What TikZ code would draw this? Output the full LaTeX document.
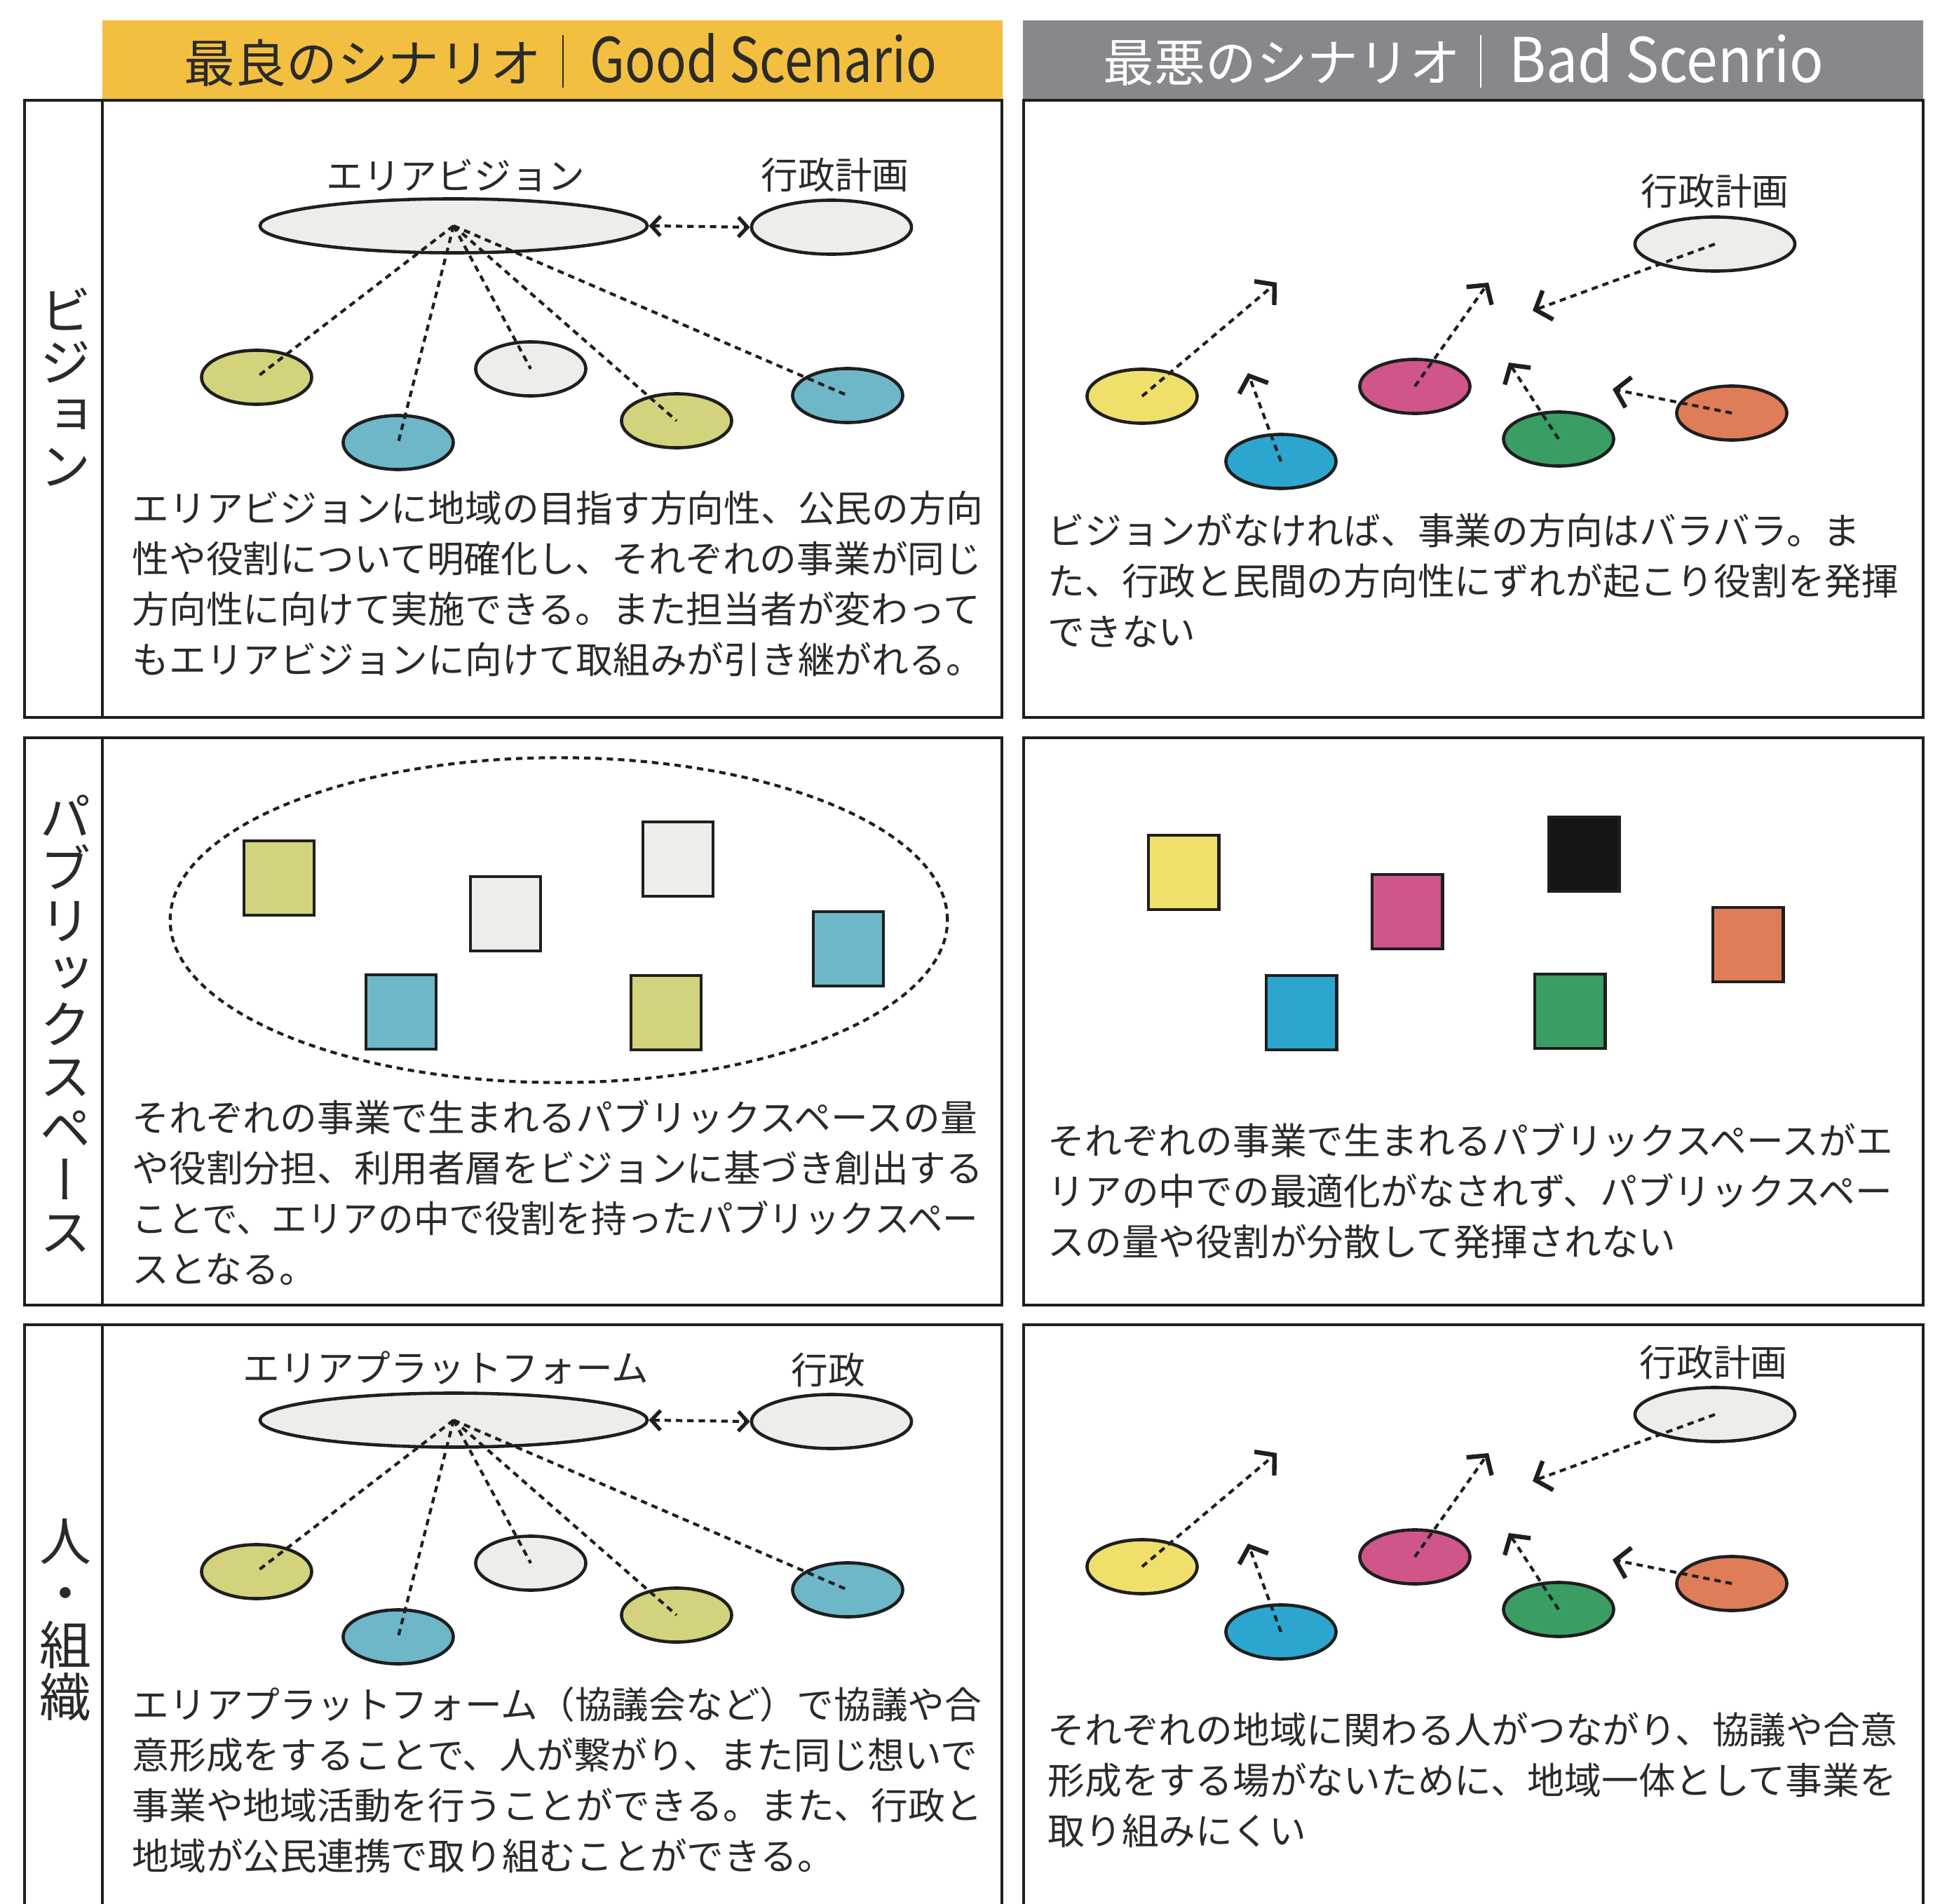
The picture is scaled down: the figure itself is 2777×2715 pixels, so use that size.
\documentclass[tikz,border=0pt]{standalone}
\usepackage{fontspec}
\usepackage{graphicx}
\setmainfont{Noto Sans CJK JP}
\newfontfamily\vertfont{Noto Sans CJK JP}[RawFeature=+vert]
\usetikzlibrary{arrows.meta,shapes.geometric}
\definecolor{linec}{HTML}{1E1F1E}
\definecolor{textc}{HTML}{2A2A2A}
\definecolor{hyel}{HTML}{F3BF41}
\definecolor{hgray}{HTML}{88878C}
\definecolor{gyg}{HTML}{D2D37C}
\definecolor{gbl}{HTML}{6DB7C8}
\definecolor{glg}{HTML}{EDEDEA}
\definecolor{byel}{HTML}{F0DF6B}
\definecolor{bbl}{HTML}{2CA6CE}
\definecolor{bmag}{HTML}{D0558A}
\definecolor{bgrn}{HTML}{3A9D64}
\definecolor{bora}{HTML}{DE7D57}
\definecolor{bblk}{HTML}{131615}
\newcommand\goodnet[2]{%
 \begin{scope}[shift={(0,#2)}]
 \node[bigell] (#1big) at (647,322) {};
 \node[govell] (#1gov) at (1186,324) {};
 \node[ell,fill=gyg] (#1a) at (366,538) {};
 \node[ell,fill=gbl] (#1b) at (568,631) {};
 \node[ell,fill=glg] (#1c) at (757,526) {};
 \node[ell,fill=gyg] (#1d) at (965,600) {};
 \node[ell,fill=gbl] (#1e) at (1209,564) {};
 \foreach \k in {a,b,c,d,e} \draw[spoke] (#1big.center) -- (#1\k.center);
 \draw[dblarrow] (#1big.east) -- (#1gov.west);
 \end{scope}}
\newcommand\badnet[2]{%
 \begin{scope}[shift={(0,#2)}]
 \node[govell] (#1gov) at (2446,348) {};
 \node[ell,fill=byel] (#1a) at (1629,565) {};
 \node[ell,fill=bbl] (#1b) at (1827,658) {};
 \node[ell,fill=bmag] (#1c) at (2018,551) {};
 \node[ell,fill=bgrn] (#1d) at (2223,626) {};
 \node[ell,fill=bora] (#1e) at (2470,589) {};
 \coordinate (#1ta) at (1821,403);
 \coordinate (#1tb) at (1780,532);
 \coordinate (#1tc) at (2123,403);
 \coordinate (#1td) at (2152,517);
 \coordinate (#1te) at (2300,555);
 \coordinate (#1tg) at (2186,443);
 \foreach \k in {a,b,c,d,e} \draw[badarrow] (#1\k.center) -- (#1t\k);
 \draw[badarrow] (#1gov.center) -- (#1tg);
 \end{scope}}
\begin{document}
\begin{tikzpicture}[x=0.01cm,y=-0.01cm,
 panelframe/.style={draw=linec, line width=1.2pt},
 ell/.style={ellipse, draw=linec, line width=1.3pt, inner sep=0pt, minimum width=1.57cm, minimum height=0.77cm},
 bigell/.style={ell, fill=glg, minimum width=5.52cm},
 govell/.style={ell, fill=glg, minimum width=2.28cm},
 sq/.style={rectangle, draw=linec, line width=1.4pt, inner sep=0pt, minimum width=1.0cm, minimum height=1.06cm},
 spoke/.style={draw=linec, line width=1.2pt, dash pattern=on 2.6pt off 2pt},
 dblarrow/.style={spoke, {Straight Barb[length=1.3mm,width=2.8mm,line width=1.5pt]}-{Straight Barb[length=1.3mm,width=2.8mm,line width=1.5pt]}},
 badarrow/.style={spoke, -{Straight Barb[length=1.9mm,width=4.4mm,line width=1.8pt]}},
 bodytxt/.style={anchor=base west, inner sep=0pt, text=textc, font=\fontsize{15}{18}\selectfont},
 lbl/.style={inner sep=0pt, text=textc, font=\fontsize{15}{18}\selectfont},
 sidelbl/.style={inner sep=0pt, text=textc, align=center, font=\vertfont\fontsize{21}{21.05}\selectfont},
 hdrj/.style={anchor=west, inner sep=0pt, font=\fontsize{20.7}{24}\selectfont},
 hdre/.style={anchor=base west, inner sep=0pt, font=\fontsize{25}{30}\selectfont}]
\useasboundingbox (0,0) rectangle (2777,2715);
\fill[white] (0,0) rectangle (2777,2715);
% headers
\fill[hyel] (146,29) rectangle (1430,143);
\fill[hgray] (1459,29) rectangle (2743,143);
\node[hdrj, text=textc] (gj) at (262,90) {最良のシナリオ};
\draw[line width=0.6pt, textc] (803,50) -- (803,125);
\node[hdre, text=textc] (ge) at (841,118) {\scalebox{0.824}[1]{Good Scenario}};
\node[hdrj, text=white] (bj) at (1573,90) {最悪のシナリオ};
\draw[line width=0.6pt, white] (2112,50) -- (2112,125);
\node[hdre, text=white] (be) at (2152,118) {\scalebox{0.915}[1]{Bad Scenrio}};
% frames
\draw[panelframe] (35,143) rectangle (1429,1023);
\draw[panelframe] (146,143) -- (146,1023);
\draw[panelframe] (1460,143) rectangle (2743,1023);
\draw[panelframe] (35,1052) rectangle (1429,1861);
\draw[panelframe] (146,1052) -- (146,1861);
\draw[panelframe] (1460,1052) rectangle (2743,1861);
\draw[panelframe] (35,1889) rectangle (1429,2780);
\draw[panelframe] (146,1889) -- (146,2780);
\draw[panelframe] (1460,1889) rectangle (2743,2780);
% side labels
\node[sidelbl] (s1) at (93,552) {ビ\\ジ\\ョ\\ン};
\node[sidelbl] (s2) at (93,1460) {パ\\ブ\\リ\\ッ\\ク\\ス\\ペ\\ー\\ス};
\node[sidelbl] (s3) at (93,2310) {人\\・\\組\\織};
% row 1 diagrams
\goodnet{ga}{0}
\node[lbl] (gal1) at (650,250) {エリアビジョン};
\node[lbl] (gal2) at (1191,250) {行政計画};
\badnet{ba}{0}
\node[lbl] (bal1) at (2446,273) {行政計画};
% row 3 diagrams
\goodnet{gc}{1703}
\node[lbl] (gcl1) at (636,1951) {エリアプラットフォーム};
\node[lbl] (gcl2) at (1181,1953) {行政};
\badnet{bc}{1669}
\node[lbl] (bcl1) at (2444,1942) {行政計画};
% row 2 public spaces
\node[ellipse, draw=linec, line width=1.2pt, dash pattern=on 2.6pt off 2pt, minimum width=11.08cm, minimum height=4.63cm, inner sep=0pt] (pool) at (797,1312) {};
\node[sq, fill=gyg] (p1) at (398,1252) {};
\node[sq, fill=glg] (p2) at (721,1303) {};
\node[sq, fill=glg] (p3) at (967,1225) {};
\node[sq, fill=gbl] (p4) at (1210,1353) {};
\node[sq, fill=gbl] (p5) at (572,1443) {};
\node[sq, fill=gyg] (p6) at (950,1444) {};
\node[sq, fill=byel] (q1) at (1688,1244) {};
\node[sq, fill=bmag] (q2) at (2007,1300) {};
\node[sq, fill=bblk] (q3) at (2259,1218) {};
\node[sq, fill=bora] (q4) at (2493,1347) {};
\node[sq, fill=bbl] (q5) at (1856,1444) {};
\node[sq, fill=bgrn] (q6) at (2239,1442) {};
% texts
\foreach \t [count=\i] in {エリアビジョンに地域の目指す方向性、公民の方向,性や役割について明確化し、それぞれの事業が同じ,方向性に向けて実施できる。また担当者が変わって,もエリアビジョンに向けて取組みが引き継がれる。}
 \node[bodytxt] (t1l\i) at (188,744+72*\i-72) {\t};
\foreach \t [count=\i] in {ビジョンがなければ、事業の方向はバラバラ。ま,た、行政と民間の方向性にずれが起こり役割を発揮,できない}
 \node[bodytxt] (t1r\i) at (1494,776+72*\i-72) {\t};
\node[bodytxt] (t2l1) at (188,1613) {それぞれの事業で生まれるパブリックスペースの量};
\node[bodytxt] (t2l2) at (188,1685) {や役割分担、利用者層をビジョンに基づき創出する};
\node[bodytxt] (t2l3) at (188,1757) {\scalebox{0.96}[1]{ことで、エリアの中で役割を持ったパブリックスペー}};
\node[bodytxt] (t2l4) at (188,1829) {スとなる。};
\foreach \t [count=\i] in {それぞれの事業で生まれるパブリックスペースがエ,リアの中での最適化がなされず、パブリックスペー,スの量や役割が分散して発揮されない}
 \node[bodytxt] (t2r\i) at (1494,1646+72*\i-72) {\t};
\foreach \t [count=\i] in {エリアプラットフォーム（協議会など）で協議や合,意形成をすることで、人が繋がり、また同じ想いで,事業や地域活動を行うことができる。また、行政と,地域が公民連携で取り組むことができる。}
 \node[bodytxt] (t3l\i) at (188,2450+72*\i-72) {\t};
\foreach \t [count=\i] in {それぞれの地域に関わる人がつながり、協議や合意,形成をする場がないために、地域一体として事業を,取り組みにくい}
 \node[bodytxt] (t3r\i) at (1494,2486+72*\i-72) {\t};
\end{tikzpicture}
\end{document}
